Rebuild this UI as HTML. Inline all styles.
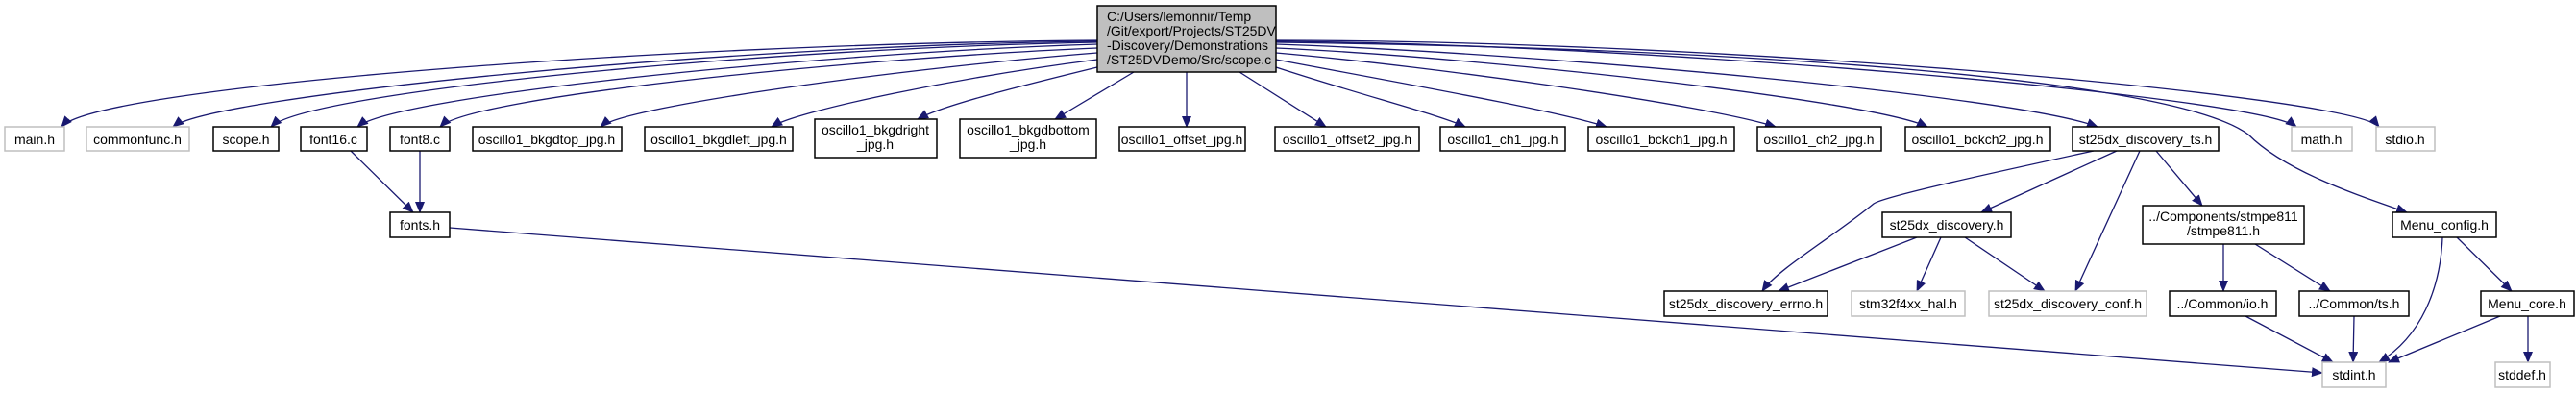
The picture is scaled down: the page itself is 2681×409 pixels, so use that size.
<!DOCTYPE html>
<html><head><meta charset="utf-8"><style>
html,body{margin:0;padding:0;background:#fff;}
svg{display:block;}
text{font-family:"Liberation Sans",Arial,sans-serif;font-size:14px;fill:#000;}
.b{fill:#fff;stroke:#000;stroke-width:1.5;}
.g{fill:#fff;stroke:#bfbfbf;stroke-width:1.5;}
.e{fill:none;stroke:#191970;stroke-width:1.3;marker-end:url(#a);}
</style></head><body>
<svg width="2681" height="409" viewBox="0 0 2681 409" xmlns="http://www.w3.org/2000/svg">
<defs><marker id="a" markerUnits="userSpaceOnUse" markerWidth="12" markerHeight="10" refX="11" refY="5" orient="auto"><path d="M0,0 L12,5 L0,10 z" fill="#191970"/></marker></defs>

<!-- edges from scope.c -->
<path class="e" d="M1142,42 C700,45 100,90 64,132"/>
<path class="e" d="M1142,43 C750,47 220,100 180,132"/>
<path class="e" d="M1142,44 C800,50 320,95 282,132"/>
<path class="e" d="M1142,46 C850,55 410,100 372,132"/>
<path class="e" d="M1142,50 C900,60 490,100 458,132"/>
<path class="e" d="M1142,55 C950,70 650,110 625,132"/>
<path class="e" d="M1142,62 C1000,80 830,115 803,132"/>
<path class="e" d="M1142,70 C1060,90 980,110 955,124"/>
<path class="e" d="M1180,75 L1098,124"/>
<path class="e" d="M1235,75 L1235,132"/>
<path class="e" d="M1290,75 L1380,132"/>
<path class="e" d="M1328,70 C1420,100 1500,120 1525,132"/>
<path class="e" d="M1328,62 C1450,85 1620,115 1672,132"/>
<path class="e" d="M1328,55 C1500,70 1780,110 1848,132"/>
<path class="e" d="M1328,50 C1550,60 1950,105 2006,132"/>
<path class="e" d="M1328,46 C1600,55 2100,100 2183,132"/>
<path class="e" d="M1328,43 C1700,45 2350,100 2390,132"/>
<path class="e" d="M1328,42 C1800,42 2450,100 2476,132"/>
<path class="e" d="M1328,44 C1800,50 2260,80 2340,140 C2380,180 2460,205 2505,221"/>

<!-- lower edges -->
<path class="e" d="M365,157 L430,221"/>
<path class="e" d="M437,157 L437,221"/>
<path class="e" d="M468,237 L2417,388"/>
<path class="e" d="M2179,157 C2050,185 1960,205 1950,212 C1910,245 1850,280 1834,303"/>
<path class="e" d="M2203,157 L2062,221"/>
<path class="e" d="M2227,157 L2160,303"/>
<path class="e" d="M2244,157 L2292,214"/>
<path class="e" d="M1995,247 L1851,303"/>
<path class="e" d="M2020,247 L1995,303"/>
<path class="e" d="M2045,247 L2128,303"/>
<path class="e" d="M2314,254 L2314,303"/>
<path class="e" d="M2347,254 L2425,303"/>
<path class="e" d="M2337,329 L2428,377"/>
<path class="e" d="M2450,329 L2449,377"/>
<path class="e" d="M2542,247 C2540,300 2520,350 2476,377"/>
<path class="e" d="M2557,247 L2614,303"/>
<path class="e" d="M2602,329 L2486,377"/>
<path class="e" d="M2631,329 L2631,377"/>

<!-- root -->
<rect x="1142" y="6" width="186" height="69" fill="#bfbfbf" stroke="#000" stroke-width="1.5"/>
<text x="1152" y="22">C:/Users/lemonnir/Temp</text>
<text x="1152" y="37">/Git/export/Projects/ST25DV</text>
<text x="1152" y="52">-Discovery/Demonstrations</text>
<text x="1152" y="67">/ST25DVDemo/Src/scope.c</text>

<g text-anchor="middle">
<!-- row 1 -->
<rect class="g" x="5" y="132" width="62" height="25"/><text x="36" y="150">main.h</text>
<rect class="g" x="90" y="132" width="107" height="25"/><text x="143" y="150">commonfunc.h</text>
<rect class="b" x="222" y="132" width="68" height="25"/><text x="256" y="150">scope.h</text>
<rect class="b" x="313" y="132" width="69" height="25"/><text x="347" y="150">font16.c</text>
<rect class="b" x="406" y="132" width="62" height="25"/><text x="437" y="150">font8.c</text>
<rect class="b" x="492" y="132" width="155" height="25"/><text x="569" y="150">oscillo1_bkgdtop_jpg.h</text>
<rect class="b" x="671" y="132" width="154" height="25"/><text x="748" y="150">oscillo1_bkgdleft_jpg.h</text>
<rect class="b" x="848" y="124" width="127" height="40"/><text x="911" y="140">oscillo1_bkgdright</text><text x="911" y="155">_jpg.h</text>
<rect class="b" x="999" y="124" width="142" height="40"/><text x="1070" y="140">oscillo1_bkgdbottom</text><text x="1070" y="155">_jpg.h</text>
<rect class="b" x="1165" y="132" width="131" height="25"/><text x="1230" y="150">oscillo1_offset_jpg.h</text>
<rect class="b" x="1327" y="132" width="150" height="25"/><text x="1402" y="150">oscillo1_offset2_jpg.h</text>
<rect class="b" x="1499" y="132" width="130" height="25"/><text x="1564" y="150">oscillo1_ch1_jpg.h</text>
<rect class="b" x="1653" y="132" width="152" height="25"/><text x="1729" y="150">oscillo1_bckch1_jpg.h</text>
<rect class="b" x="1829" y="132" width="129" height="25"/><text x="1893" y="150">oscillo1_ch2_jpg.h</text>
<rect class="b" x="1983" y="132" width="151" height="25"/><text x="2058" y="150">oscillo1_bckch2_jpg.h</text>
<rect class="b" x="2157" y="132" width="152" height="25"/><text x="2233" y="150">st25dx_discovery_ts.h</text>
<rect class="g" x="2385" y="132" width="63" height="25"/><text x="2416" y="150">math.h</text>
<rect class="g" x="2473" y="132" width="61" height="25"/><text x="2503" y="150">stdio.h</text>
<!-- row 2 -->
<rect class="b" x="406" y="221" width="62" height="26"/><text x="437" y="239">fonts.h</text>
<rect class="b" x="1959" y="221" width="134" height="26"/><text x="2026" y="239">st25dx_discovery.h</text>
<rect class="b" x="2230" y="214" width="168" height="40"/><text x="2314" y="230">../Components/stmpe811</text><text x="2314" y="245">/stmpe811.h</text>
<rect class="b" x="2490" y="221" width="108" height="26"/><text x="2544" y="239">Menu_config.h</text>
<!-- row 3 -->
<rect class="b" x="1732" y="303" width="170" height="26"/><text x="1817" y="321">st25dx_discovery_errno.h</text>
<rect class="g" x="1927" y="303" width="118" height="26"/><text x="1986" y="321">stm32f4xx_hal.h</text>
<rect class="g" x="2070" y="303" width="164" height="26"/><text x="2152" y="321">st25dx_discovery_conf.h</text>
<rect class="b" x="2258" y="303" width="111" height="26"/><text x="2313" y="321">../Common/io.h</text>
<rect class="b" x="2393" y="303" width="114" height="26"/><text x="2450" y="321">../Common/ts.h</text>
<rect class="b" x="2582" y="303" width="97" height="26"/><text x="2630" y="321">Menu_core.h</text>
<!-- row 4 -->
<rect class="g" x="2417" y="377" width="66" height="26"/><text x="2450" y="395">stdint.h</text>
<rect class="g" x="2597" y="377" width="57" height="26"/><text x="2625" y="395">stddef.h</text>
</g>
</svg>
</body></html>
